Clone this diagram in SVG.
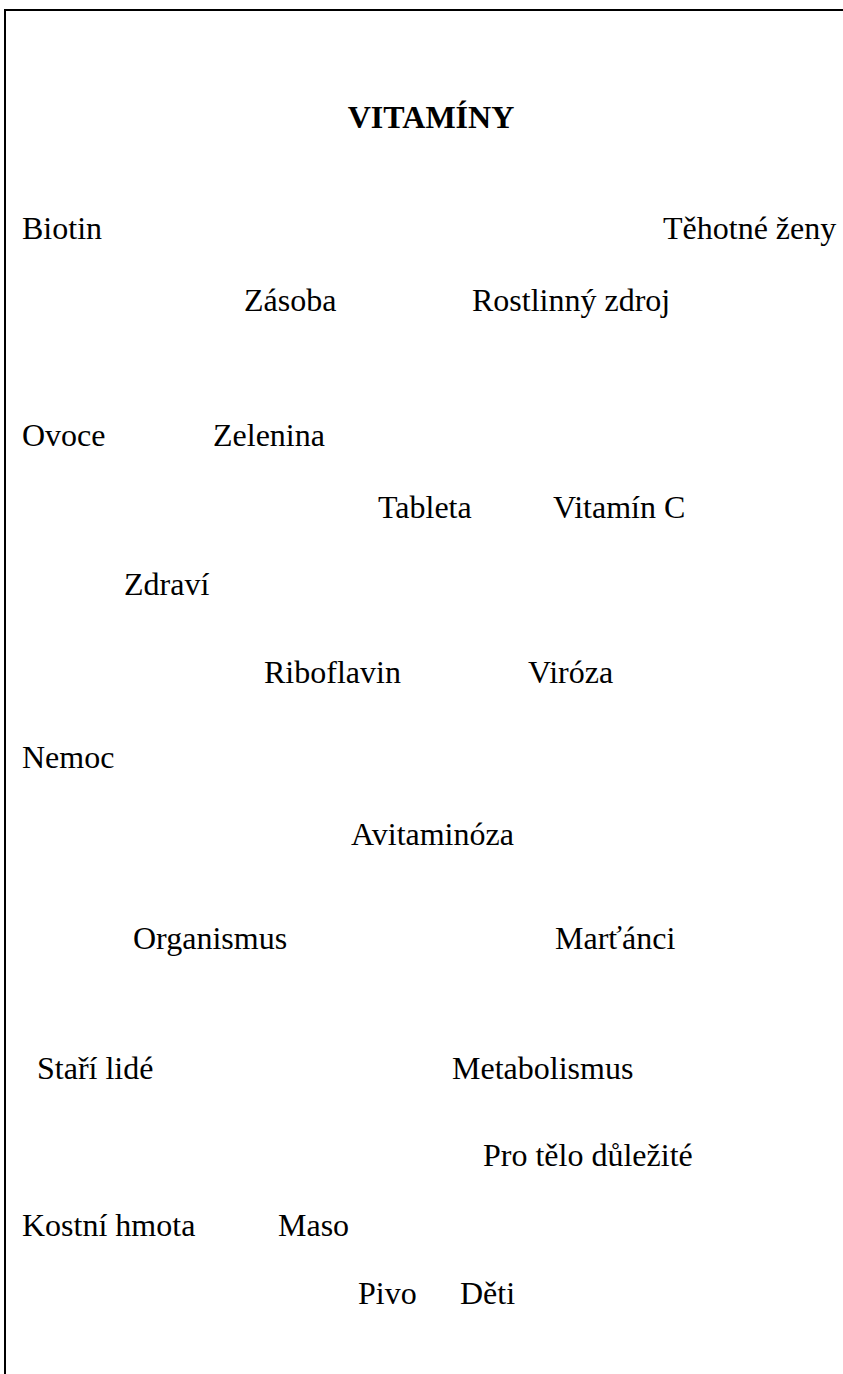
<svg xmlns="http://www.w3.org/2000/svg" width="843" height="1374" viewBox="0 0 843 1374">
<style>
.t{font-family:"Liberation Serif","Times New Roman",serif;font-size:32px;fill:#000}
.h{font-family:"Liberation Serif","Times New Roman",serif;font-size:32px;font-weight:bold;fill:#000}
.frame{stroke:#000;stroke-width:2;fill:none}
</style>
<rect width="843" height="1374" fill="#fff"/>
<g id="frame"><path class="frame" d="M5,1374 V10 H843"/></g>
<g id="connectors"></g>
<g id="title"><text class="h" x="431" y="128" text-anchor="middle">VITAMÍNY</text></g>
<g id="n-biotin"><text class="t" x="22" y="239">Biotin</text></g>
<g id="n-tehotne"><text class="t" x="663" y="239">Těhotné ženy</text></g>
<g id="n-zasoba"><text class="t" x="244" y="311">Zásoba</text></g>
<g id="n-rostlinny"><text class="t" x="472" y="311">Rostlinný zdroj</text></g>
<g id="n-ovoce"><text class="t" x="22" y="446">Ovoce</text></g>
<g id="n-zelenina"><text class="t" x="213" y="446">Zelenina</text></g>
<g id="n-tableta"><text class="t" x="378" y="518">Tableta</text></g>
<g id="n-vitaminc"><text class="t" x="553" y="518">Vitamín C</text></g>
<g id="n-zdravi"><text class="t" x="124" y="595">Zdraví</text></g>
<g id="n-riboflavin"><text class="t" x="264" y="683">Riboflavin</text></g>
<g id="n-viroza"><text class="t" x="528" y="683">Viróza</text></g>
<g id="n-nemoc"><text class="t" x="22" y="768">Nemoc</text></g>
<g id="n-avitaminoza"><text class="t" x="351" y="845">Avitaminóza</text></g>
<g id="n-organismus"><text class="t" x="133" y="949">Organismus</text></g>
<g id="n-martanci"><text class="t" x="555" y="949">Marťánci</text></g>
<g id="n-stari"><text class="t" x="37" y="1079">Staří lidé</text></g>
<g id="n-metabolismus"><text class="t" x="452" y="1079">Metabolismus</text></g>
<g id="n-protelo"><text class="t" x="483" y="1166">Pro tělo důležité</text></g>
<g id="n-kostni"><text class="t" x="22" y="1236">Kostní hmota</text></g>
<g id="n-maso"><text class="t" x="278" y="1236">Maso</text></g>
<g id="n-pivo"><text class="t" x="358" y="1304">Pivo</text></g>
<g id="n-deti"><text class="t" x="460" y="1304">Děti</text></g>
</svg>
